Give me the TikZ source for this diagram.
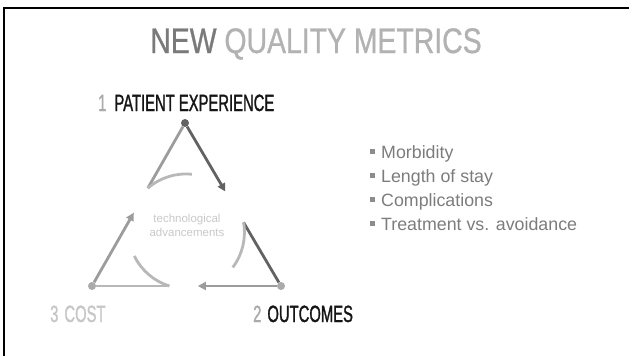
\documentclass[tikz,border=0pt]{standalone}
\usepackage{fontspec}
\setmainfont{Liberation Sans}
\newfontfamily\condfont[FakeStretch=0.63, FakeBold=1.2]{Liberation Sans}
\newfontfamily\titlefont[FakeStretch=0.8, FakeBold=0.8]{Liberation Sans}
\usetikzlibrary{arrows.meta, positioning, calc}
\definecolor{inkblack}{HTML}{151515}
\definecolor{titledark}{HTML}{7A7A7A}
\definecolor{titlelight}{HTML}{B2B2B2}
\definecolor{numgrey}{HTML}{AAAAAA}
\definecolor{costgrey}{HTML}{C6C6C6}
\definecolor{linedark}{HTML}{626262}
\definecolor{linemid}{HTML}{9C9C9C}
\definecolor{linelight}{HTML}{B8B8B8}
\definecolor{hubgrey}{HTML}{C8C8C8}
\definecolor{listgrey}{HTML}{7C7C7C}
\definecolor{bulletgrey}{HTML}{8C8C8C}
\tikzset{
  vertex/.style={circle, fill=#1, inner sep=0pt, minimum size=8pt},
  side/.style={draw=#1, line width=2.8pt},
  flow/.style={draw=#1, line width=2.8pt, -{Triangle[length=8pt,width=8pt]}},
  cornerlabel/.style={anchor=base west, inner sep=0pt, font=\condfont\fontsize{23.5}{26}\selectfont, text=#1},
  metric/.style={anchor=base west, inner sep=0pt, font=\fontsize{17.8}{20}\selectfont, text=listgrey},
}
\newcommand{\sqbullet}{\raisebox{0.22em}{\textcolor{bulletgrey}{\rule{5pt}{5pt}}}\hspace{6pt}}

\begin{document}
\begin{tikzpicture}[x=1pt, y=-1pt]
\useasboundingbox (0,0) rectangle (629,356);
% slide frame (top and left edges only)
\draw[black, line width=2.5pt] (4,356) -- (4,8) -- (629,8);

% title
\node[anchor=base, inner sep=0pt, font=\titlefont\fontsize{35.5}{40}\selectfont, text=titlelight] (title) at (316,53)
  {\textcolor{titledark}{NEW} QUALITY METRICS};

% triangle corners
\node[vertex=linedark] (pe) at (185,123) {};
\node[vertex=numgrey] (oc) at (281,286) {};
\node[vertex=numgrey] (co) at (92,286) {};

% break points along the sides
\coordinate (peL) at ($(pe)!0.40!(co)$);
\coordinate (peR) at ($(pe)!0.42!(oc)$);
\coordinate (ocU) at ($(oc)!0.39!(pe)$);
\coordinate (ocL) at ($(oc)!0.44!(co)$);
\coordinate (coR) at ($(co)!0.41!(oc)$);
\coordinate (coU) at ($(co)!0.45!(pe)$);

% sides
\draw[side=linemid] (pe) -- (peL);
\draw[flow=linedark] (pe) -- (peR);
\draw[side=linedark] (ocU) -- (oc);
\draw[flow=linemid] (oc) -- (ocL);
\draw[side=linelight] (co) -- (coR);
\draw[flow=linemid] (co) -- (coU);

% inner arcs
\draw[side=linelight] (peL) arc[start angle=131, end angle=84, radius=58pt];
\draw[side=linelight] (ocU) arc[start angle=10, end angle=-37, radius=58pt];
\draw[side=linelight] (coR) arc[start angle=253, end angle=206, radius=58pt];

% centre text
\node[align=center, inner sep=0pt, font=\fontsize{11.5}{14}\selectfont, text=hubgrey] (hub) at (187,225)
  {technological\\advancements};

% corner labels
\node[cornerlabel=inkblack] (pelabel) at (98,111) {\textcolor{numgrey}{1}\hspace{8pt}PATIENT EXPERIENCE};
\node[cornerlabel=inkblack] (oclabel) at (253,322) {\textcolor{numgrey}{2}\hspace{6pt}OUTCOMES};
\node[cornerlabel=costgrey] (colabel) at (50,322) {3\hspace{6pt}COST};

% metrics list
\node[metric] (morb) at (370,158) {\sqbullet Morbidity};
\node[metric] (stay) at (370,182) {\sqbullet Length of stay};
\node[metric] (compl) at (370,206) {\sqbullet Complications};
\node[metric] (treat) at (370,230) {\sqbullet Treatment vs. avoidance};
\end{tikzpicture}
\end{document}
